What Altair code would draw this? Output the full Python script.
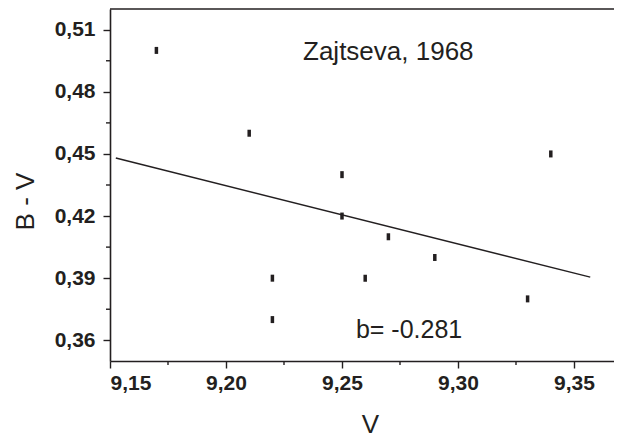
import altair as alt
import pandas as pd

# Data
v_vals = [9.17, 9.21, 9.25, 9.25, 9.34, 9.22, 9.22, 9.26, 9.27, 9.29, 9.33]
bv_vals = [0.50, 0.46, 0.44, 0.42, 0.45, 0.39, 0.37, 0.39, 0.41, 0.40, 0.38]
fit_v = [9.1525, 9.357]
fit_bv = [0.4480, 0.3905]
x_major = [9.15, 9.20, 9.25, 9.30, 9.35]
x_minor = [9.175, 9.225, 9.275, 9.325]
y_major = [0.36, 0.39, 0.42, 0.45, 0.48, 0.51]
y_minor = [0.375, 0.405, 0.435, 0.465, 0.495]

INK = "#231f20"
FONT = "Liberation Sans"
W, H = 504, 352

pts = pd.DataFrame({"V": v_vals, "BV": bv_vals})
fit = pd.DataFrame({"V": fit_v, "BV": fit_bv})
xm = pd.DataFrame({"V": x_minor})
ym = pd.DataFrame({"BV": y_minor})

xscale = alt.Scale(domain=[9.15, 9.15 + W / 2320], nice=False, zero=False)
yscale = alt.Scale(domain=[0.35, 0.52], nice=False, zero=False)

comma = "replace(format(datum.value, '.2f'), '.', ',')"

xaxis = alt.Axis(values=x_major, labelExpr=comma, title="V", grid=False,
                 tickSize=7, labelPadding=4, labelFontSize=21, labelFontWeight="bold",
                 labelFont=FONT, labelColor=INK, titleFont=FONT, titleFontSize=26,
                 titleFontWeight="normal", titleColor=INK, titleX=260, titleY=71,
                 titleBaseline="alphabetic", tickColor=INK, domainColor=INK,
                 domainWidth=1.6, tickWidth=1.4)
yaxis = alt.Axis(values=y_major, labelExpr=comma, title="B - V", grid=False,
                 tickSize=7, labelPadding=8, labelFontSize=21, labelFontWeight="bold",
                 labelFont=FONT, labelColor=INK, titleFont=FONT, titleFontSize=26,
                 titleFontWeight="normal", titleColor=INK, titleX=-77, titleY=192,
                 titleBaseline="alphabetic", titleAngle=-90, tickColor=INK,
                 domainColor=INK, domainWidth=1.6, tickWidth=1.4)

points = alt.Chart(pts).mark_tick(orient="vertical", thickness=3.5, size=7, color=INK, opacity=1).encode(
    x=alt.X("V:Q", scale=xscale, axis=xaxis),
    y=alt.Y("BV:Q", scale=yscale, axis=yaxis),
)

line = alt.Chart(fit).mark_line(color=INK, strokeWidth=1.5).encode(
    x=alt.X("V:Q", scale=xscale),
    y=alt.Y("BV:Q", scale=yscale),
)

top_border = alt.Chart(pd.DataFrame({"a": [0]})).mark_rule(color=INK, strokeWidth=1.6).encode(
    x=alt.value(0), x2=alt.value(W), y=alt.value(0)
)

x_minor_ticks = alt.Chart(xm).mark_rule(color=INK, strokeWidth=1.4).encode(
    x=alt.X("V:Q", scale=xscale), y=alt.value(H), y2=alt.value(H + 4)
)
y_minor_ticks = alt.Chart(ym).mark_rule(color=INK, strokeWidth=1.4).encode(
    y=alt.Y("BV:Q", scale=yscale), x=alt.value(-4), x2=alt.value(0)
)

label1 = alt.Chart(pd.DataFrame({"t": ["Zajtseva, 1968"]})).mark_text(
    align="left", baseline="alphabetic", font=FONT, fontSize=26, color=INK
).encode(x=alt.datum(9.2332, scale=xscale), y=alt.datum(0.4952, scale=yscale), text="t:N")

label2 = alt.Chart(pd.DataFrame({"t": ["b= -0.281"]})).mark_text(
    align="left", baseline="alphabetic", font=FONT, fontSize=25, color=INK
).encode(x=alt.datum(9.256, scale=xscale), y=alt.datum(0.361, scale=yscale), text="t:N")

chart = alt.layer(
    points, line, top_border, x_minor_ticks, y_minor_ticks, label1, label2
).properties(
    width=W, height=H,
    autosize=alt.AutoSizeParams(type="none"),
    padding={"left": 102, "top": 1, "right": 0, "bottom": 76},
).configure_view(strokeWidth=0)

chart.save("out.html", embed_options={"renderer": "svg", "actions": False})
